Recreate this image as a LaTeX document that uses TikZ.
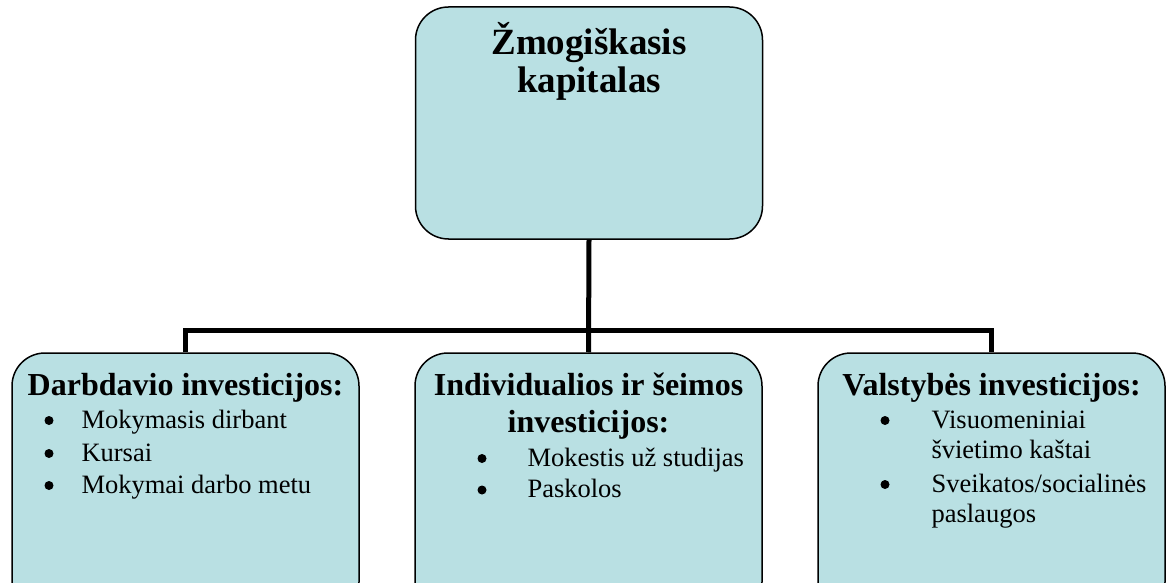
\documentclass[tikz,border=0pt]{standalone}
\usepackage{fontspec}
\setmainfont{Liberation Serif}
\usetikzlibrary{positioning}
\definecolor{boxblue}{RGB}{185,224,227}
\tikzset{
	box/.style={draw=black, line width=1.5pt, fill=boxblue, rounded corners=33pt, minimum width=347pt, inner sep=0pt},
	conn/.style={line width=5pt},
	titletext/.style={font=\fontsize{37}{42}\selectfont\bfseries, anchor=base},
	headtext/.style={font=\fontsize{32}{37}\selectfont\bfseries, anchor=base},
	itemtext/.style={font=\fontsize{26.5}{31}\selectfont, anchor=base west},
	dot/.style={circle, fill=black, inner sep=0pt, minimum size=9pt, yshift=7.5pt},
}

\begin{document}
\begin{tikzpicture}[x=1pt, y=-1pt] % one unit is one pixel of the picture
	% Fix the size of the picture, the lower boxes run off the bottom
	\useasboundingbox (0,0) rectangle (1170,583);
	\clip (0,0) rectangle (1170,583);
	
	% Boxes
	\node[box, minimum height=232pt] (top) at (589,123) {};
	\node[box, minimum height=262pt] (empl) at (185.5,484) {};
	\node[box, minimum height=262pt] (fam) at (588.5,484) {};
	\node[box, minimum height=262pt] (state) at (991.5,484) {};
	
	% Connectors
	\coordinate (bar) at (588.5,330);
	\draw[conn] (top.south) -- (fam.north);
	\draw[conn] (empl.north) |- (bar) -| (state.north);
	
	% Title of the top box
	\node[titletext] (title1) at (589,55) {Žmogiškasis};
	\node[titletext] (title2) at (589,93) {kapitalas};
	
	% Employer box
	\node[headtext] (emplhead) at (185.5,395) {Darbdavio investicijos:};
	\foreach \y/\txt [count=\i] in {428/Mokymasis dirbant, 461/Kursai, 493/Mokymai darbo metu} {
		\node[dot] (emplb\i) at (49,\y) {};
		\node[itemtext] (empli\i) at (78,\y) {\txt};
	}
	
	% Family box
	\node[headtext] (famhead1) at (588.5,395) {Individualios ir šeimos};
	\node[headtext] (famhead2) at (588.5,432) {investicijos:};
	\node[dot] (famb1) at (482,466) {};
	\node[itemtext] (fami1) at (524,466) {Mokestis už studijas};
	\node[dot] (famb2) at (482,497.5) {};
	\node[itemtext] (fami2) at (524,497.5) {Paskolos};
	
	% State box
	\node[headtext] (statehead) at (991.5,395) {Valstybės investicijos:};
	\node[dot] (stateb1) at (885,428) {};
	\node[itemtext] (statei1) at (928,428) {Visuomeniniai};
	\node[itemtext] (statei1b) at (928,458) {švietimo kaštai};
	\node[dot] (stateb2) at (885,492) {};
	\node[itemtext] (statei2) at (928,492) {Sveikatos/socialinės};
	\node[itemtext] (statei2b) at (928,522) {paslaugos};
\end{tikzpicture}
\end{document}
